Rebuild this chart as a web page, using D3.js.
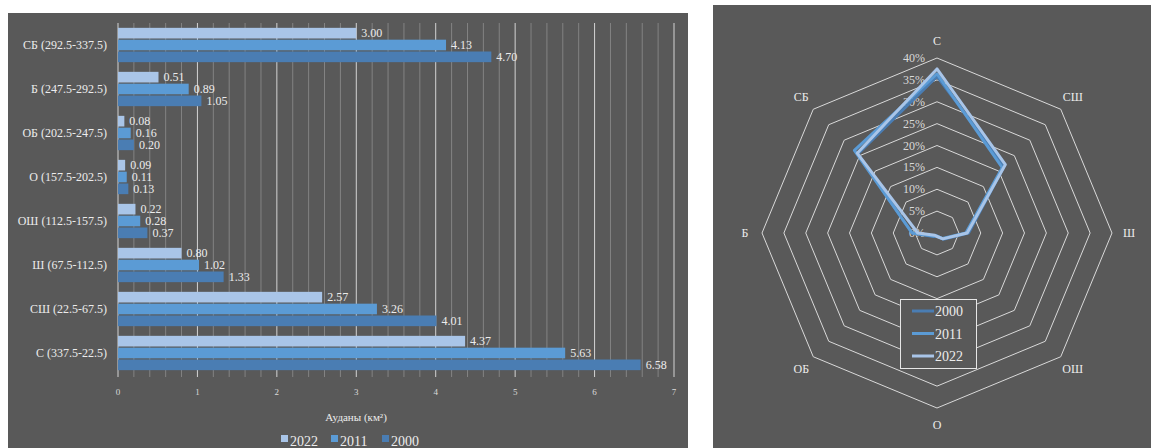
<!DOCTYPE html>
<html>
<head>
<meta charset="utf-8">
<script src="https://cdn.jsdelivr.net/npm/d3@7"></script>
<style>
  html, body { margin: 0; padding: 0; background: #ffffff; }
  svg { display: block; }
</style>
</head>
<body>
<svg id="chart" width="1151" height="448" font-family="'Liberation Serif', 'DejaVu Serif', 'Times New Roman', serif"></svg>
<script>
// Sector areas (km²) per slope direction, top-to-bottom order of the bar chart
const categories = [
  "СБ (292.5-337.5)", "Б (247.5-292.5)", "ОБ (202.5-247.5)", "О (157.5-202.5)",
  "ОШ (112.5-157.5)", "Ш (67.5-112.5)", "СШ (22.5-67.5)", "С (337.5-22.5)"
];
const years = ["2022", "2011", "2000"];
const area2022 = [3.00, 0.51, 0.08, 0.09, 0.22, 0.80, 2.57, 4.37];
const area2011 = [4.13, 0.89, 0.16, 0.11, 0.28, 1.02, 3.26, 5.63];
const area2000 = [4.70, 1.05, 0.20, 0.13, 0.37, 1.33, 4.01, 6.58];
const xTicks = [0, 1, 2, 3, 4, 5, 6, 7];
const xTitle = "Ауданы (км²)";

// Share of total area (%) per direction, clockwise from north
const directions = ["С", "СШ", "Ш", "ОШ", "О", "ОБ", "Б", "СБ"];
const share2000 = [35.8, 21.8, 7.2, 2.0, 0.7, 1.1, 5.7, 25.6];
const share2011 = [36.4, 21.1, 6.6, 1.8, 0.7, 1.0, 5.7, 26.7];
const share2022 = [37.5, 22.1, 6.9, 1.9, 0.8, 0.7, 4.4, 25.8];
const radarTicks = [0, 5, 10, 15, 20, 25, 30, 35, 40];
const radarYears = ["2000", "2011", "2022"];

const colors = { "2022": "#a9c5e8", "2011": "#5b9bd5", "2000": "#4a7db3" };
const bg = "#595959";
const textColor = "#ececec";
const serif = "'Liberation Serif', 'DejaVu Serif', 'Times New Roman', serif";

const svg = d3.select("#chart");

// ---------- Left panel: grouped horizontal bars ----------
svg.append("rect").attr("x", 8).attr("y", 13).attr("width", 680).attr("height", 435).attr("fill", bg);

const x = d3.scaleLinear().domain([0, 7]).range([118, 674]);
const y = d3.scaleBand().domain(categories).range([23, 375]).paddingInner(0.22).paddingOuter(0.11);
const ySub = d3.scaleBand().domain(years).range([0, y.bandwidth()]).paddingInner(0.1);

const gBars = svg.append("g");

// minor grid (0.2 steps)
const minor = d3.range(0, 7.0001, 0.2).filter(v => Math.abs(v - Math.round(v)) > 1e-6);
gBars.selectAll("line.minor").data(minor).join("line")
  .attr("x1", d => x(d)).attr("x2", d => x(d))
  .attr("y1", 23).attr("y2", 377)
  .attr("stroke", "#8e8e8e").attr("stroke-width", 0.8);
// major grid
gBars.selectAll("line.major").data(xTicks).join("line")
  .attr("x1", d => x(d)).attr("x2", d => x(d))
  .attr("y1", 23).attr("y2", 377)
  .attr("stroke", "#d4d4d4").attr("stroke-width", 1);

const seriesByYear = { "2022": area2022, "2011": area2011, "2000": area2000 };
years.forEach(yr => {
  const vals = seriesByYear[yr];
  const g = gBars.append("g");
  g.selectAll("rect").data(categories).join("rect")
    .attr("x", x(0))
    .attr("y", c => y(c) + ySub(yr))
    .attr("width", (c, i) => x(vals[i]) - x(0))
    .attr("height", ySub.bandwidth())
    .attr("fill", colors[yr]);
  g.selectAll("text").data(categories).join("text")
    .attr("x", (c, i) => x(vals[i]) + 5)
    .attr("y", c => y(c) + ySub(yr) + ySub.bandwidth() / 2 + 4)
    .attr("font-family", serif)
    .attr("fill", textColor).attr("font-size", 12)
    .text((c, i) => vals[i].toFixed(2));
});

// category labels
gBars.selectAll("text.cat").data(categories).join("text")
  .attr("x", 107).attr("y", c => y(c) + y.bandwidth() / 2 + 4)
  .attr("font-family", serif)
  .attr("text-anchor", "end").attr("fill", textColor).attr("font-size", 12)
  .text(c => c);

// x tick labels
gBars.selectAll("text.tick").data(xTicks).join("text")
  .attr("x", d => x(d)).attr("y", 395)
  .attr("font-family", serif)
  .attr("text-anchor", "middle").attr("fill", "#d9d9d9").attr("font-size", 9)
  .text(d => d);

// axis title
gBars.append("text").attr("x", 356).attr("y", 421).attr("text-anchor", "middle")
  .attr("font-family", serif)
  .attr("fill", textColor).attr("font-size", 11).text(xTitle);

// legend
const legX = [281, 331, 382];
years.forEach((yr, i) => {
  gBars.append("rect").attr("x", legX[i]).attr("y", 435).attr("width", 7).attr("height", 7).attr("fill", colors[yr]);
  gBars.append("text").attr("x", legX[i] + 9).attr("y", 446).attr("font-family", serif)
    .attr("fill", textColor).attr("font-size", 14).text(yr);
});

// ---------- Right panel: radar chart ----------
svg.append("rect").attr("x", 713).attr("y", 5).attr("width", 438).attr("height", 443).attr("fill", bg);

const cx = 937, cy = 233;
const r = d3.scaleLinear().domain([0, 40]).range([0, 175]);
const angle = i => i * 2 * Math.PI / directions.length;
const gRadar = svg.append("g").attr("transform", `translate(${cx},${cy})`);

const ringLine = d3.lineRadial().angle((d, i) => angle(i)).radius(d => r(d)).curve(d3.curveLinearClosed);
gRadar.selectAll("path.ring").data(radarTicks.filter(t => t > 0)).join("path")
  .attr("d", t => ringLine(directions.map(() => t)))
  .attr("fill", "none").attr("stroke", "#d9d9d9").attr("stroke-width", 1);

// tick labels
gRadar.selectAll("text.rt").data(radarTicks).join("text")
  .attr("x", -12).attr("y", t => -r(t) + 4)
  .attr("font-family", serif)
  .attr("text-anchor", "end").attr("fill", "#d9d9d9").attr("font-size", 12)
  .text(t => t + "%");

// direction labels
gRadar.selectAll("text.dir").data(directions).join("text")
  .attr("x", (d, i) => 192 * Math.sin(angle(i)))
  .attr("y", (d, i) => -192 * Math.cos(angle(i)) + 4)
  .attr("font-family", serif)
  .attr("text-anchor", "middle").attr("fill", textColor).attr("font-size", 12)
  .text(d => d);

const shareByYear = { "2000": share2000, "2011": share2011, "2022": share2022 };
radarYears.forEach(yr => {
  gRadar.append("path")
    .attr("d", ringLine(shareByYear[yr]))
    .attr("fill", "none").attr("stroke", colors[yr]).attr("stroke-width", 3)
    .attr("stroke-linejoin", "round");
});

// legend box
const lg = svg.append("g");
lg.append("rect").attr("x", 900.5).attr("y", 299.5).attr("width", 76).attr("height", 69)
  .attr("fill", bg).attr("stroke", "#e6e6e6").attr("stroke-width", 1);
radarYears.forEach((yr, i) => {
  const yy = 311 + i * 22.5;
  lg.append("line").attr("x1", 912).attr("x2", 934).attr("y1", yy).attr("y2", yy)
    .attr("stroke", colors[yr]).attr("stroke-width", 3);
  lg.append("text").attr("x", 935).attr("y", yy + 5).attr("font-family", serif)
    .attr("fill", textColor).attr("font-size", 14).text(yr);
});
</script>
</body>
</html>
